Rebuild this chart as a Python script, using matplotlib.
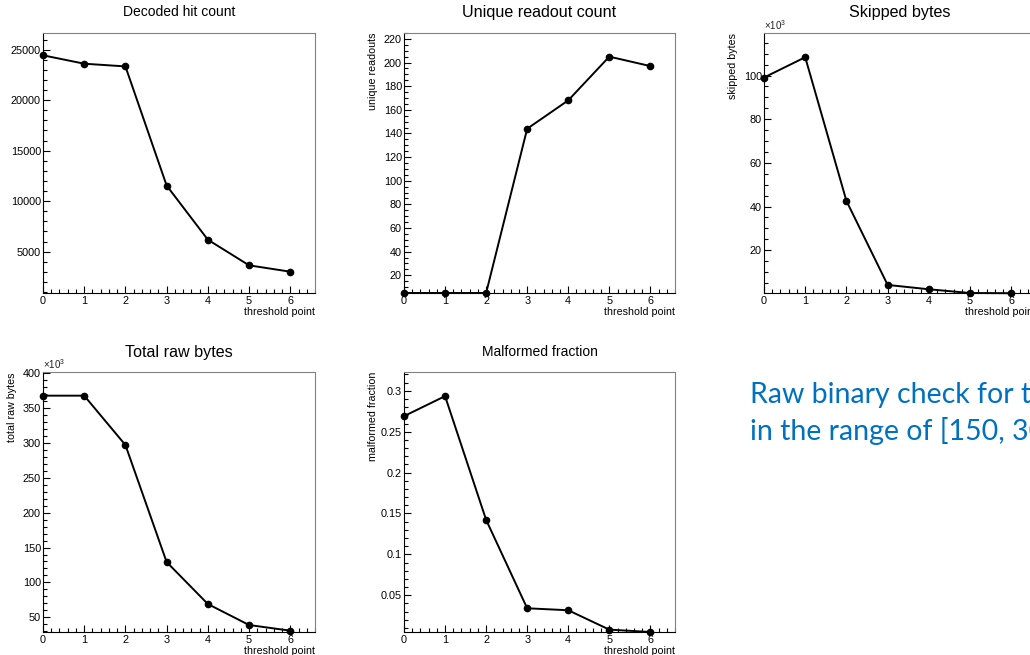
import matplotlib
matplotlib.use("Agg")
import matplotlib.pyplot as plt
from matplotlib.ticker import MultipleLocator, FuncFormatter

plt.rcParams['font.family'] = ['Liberation Sans', 'DejaVu Sans']
plt.rcParams['mathtext.fontset'] = 'custom'
plt.rcParams['mathtext.rm'] = 'Liberation Sans'

# threshold points (x axis of every panel)
threshold = [0, 1, 2, 3, 4, 5, 6]

# values
decoded_hits = [24440, 23610, 23340, 11540, 6180, 3640, 3010]
unique_readouts = [5, 5, 5, 144, 168, 205, 197]
skipped_bytes = [99100, 108400, 42600, 4100, 2100, 400, 300]
total_raw_bytes = [367500, 367500, 296800, 129200, 69100, 39000, 30900]
malformed_frac = [0.269, 0.2935, 0.1422, 0.0341, 0.0317, 0.0080, 0.0051]

W, H = 1030, 655
fig = plt.figure(figsize=(W / 100, H / 100), dpi=100)
fig.patch.set_facecolor('white')


def box(left, top, right, bottom):
    # pixel box -> figure fraction
    return [left / W, 1 - bottom / H, (right - left) / W, (bottom - top) / H]


def kilo(v, pos):
    return '%g' % (v / 1000)


def panel(px, y, title, tsize, title_y, ylim, major, minor, ylabel=None, kfmt=False):
    left, top, right, bottom = px
    ax = fig.add_axes(box(left, top, right, bottom))
    ax.plot(threshold, y, color='black', lw=1.4, marker='o', ms=4.5,
            mfc='black', mec='black', clip_on=False, zorder=3)
    ax.set_xlim(0, 6.6)
    ax.set_ylim(*ylim)
    ax.xaxis.set_major_locator(MultipleLocator(1))
    ax.xaxis.set_minor_locator(MultipleLocator(0.2))
    ax.yaxis.set_major_locator(MultipleLocator(major))
    ax.yaxis.set_minor_locator(MultipleLocator(minor))
    if kfmt:
        ax.yaxis.set_major_formatter(FuncFormatter(kilo))
        ax.text(0, 1.005, r'$\times$10$^{3}$', transform=ax.transAxes,
                ha='left', va='bottom', fontsize=7, color='#222222')
    else:
        ax.yaxis.set_major_formatter(FuncFormatter(lambda v, p: '%g' % v))
    ax.tick_params(which='both', direction='in', top=False, right=False,
                   labelsize=7.8, colors='black', width=0.8)
    ax.tick_params(which='major', length=5, pad=1.5)
    ax.tick_params(which='minor', length=2.8)
    ax.tick_params(axis='x', pad=2)
    for s in ['left', 'bottom']:
        ax.spines[s].set_color('black')
        ax.spines[s].set_linewidth(0.8)
    for s in ['top', 'right']:
        ax.spines[s].set_color('#808080')
        ax.spines[s].set_linewidth(0.8)
    ax.text(1.0, -0.072, 'threshold point', transform=ax.transAxes,
            ha='right', va='center', fontsize=7.7)
    if ylabel:
        ax.text(-0.114, 1.0, ylabel, transform=ax.transAxes, rotation=90,
                ha='center', va='top', fontsize=7.7)
    # panel title, centred over the frame
    fig.text((left + right) / 2 / W, 1 - title_y / H, title, fontsize=tsize,
             ha='center', va='center')
    return ax


panel((43, 33, 315, 293), decoded_hits, 'Decoded hit count', 10, 12,
      (900, 26650), 5000, 1000)

panel((404, 33, 675, 293), unique_readouts, 'Unique readout count', 11.6, 12,
      (5, 225), 20, 5, ylabel='unique readouts')

panel((764, 33, 1036, 293), skipped_bytes, 'Skipped bytes', 11.6, 12,
      (400, 119500), 20000, 5000, ylabel='skipped bytes', kfmt=True)

panel((43, 372, 315, 632), total_raw_bytes, 'Total raw bytes', 11.6, 352,
      (29000, 401400), 50000, 10000, ylabel='total raw bytes', kfmt=True)

panel((404, 372, 675, 632), malformed_frac, 'Malformed fraction', 10, 352,
      (0.0051, 0.323), 0.05, 0.01, ylabel='malformed fraction')

# slide text on the right, cut off by the page edge
fig.text(750 / W, 1 - 403 / H, 'Raw binary check for threshold points',
         fontsize=20.5, color='#0070C0', family=['Lato', 'DejaVu Sans'],
         ha='left', va='baseline')
fig.text(750 / W, 1 - 440 / H, 'in the range of [150, 300]',
         fontsize=20.5, color='#0070C0', family=['Lato', 'DejaVu Sans'],
         ha='left', va='baseline')

fig.savefig('out.png', dpi=100)
